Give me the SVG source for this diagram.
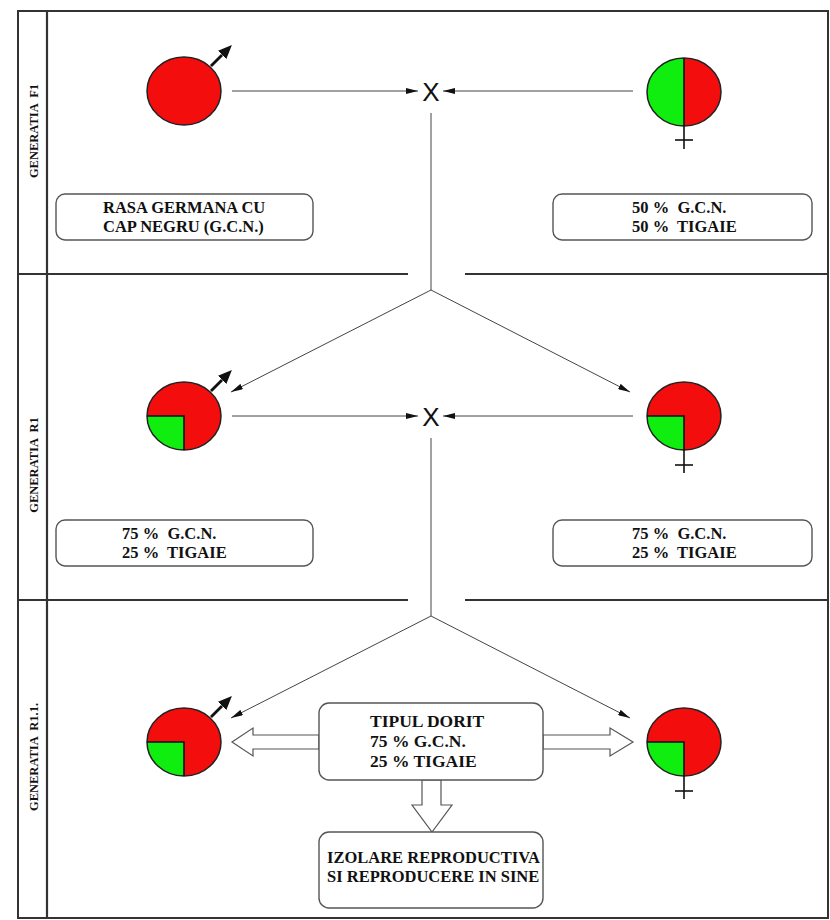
<svg xmlns="http://www.w3.org/2000/svg" width="830" height="920" viewBox="0 0 830 920">
<style>
.frame{fill:none;stroke:#333;stroke-width:2}
.div{stroke:#333;stroke-width:2.2}
.con{stroke:#444;stroke-width:1;fill:none}
.box{fill:#fff;stroke:#555;stroke-width:1.4}
.hollow{fill:#fff;stroke:#555;stroke-width:1.2}
.txt{font-family:"Liberation Serif","Times New Roman",serif;font-weight:bold;font-size:16.5px;fill:#111}
.big{font-size:17.5px}
.lbl{font-family:"Liberation Serif","Times New Roman",serif;font-weight:bold;font-size:12.5px;fill:#111}
.x{font-family:"Liberation Sans",Arial,sans-serif;font-size:26px;fill:#111}
.red{fill:#f30d0d}
.green{fill:#10ee10}
.edge{fill:none;stroke:#222;stroke-width:1.5}
.sym{stroke:#111;stroke-width:1.6;fill:none}
.male{stroke:#111;stroke-width:2.8}
</style>
<defs>
<marker id="ah" viewBox="0 0 12 6" refX="12" refY="3" markerWidth="12" markerHeight="6" markerUnits="userSpaceOnUse" orient="auto"><path d="M0,0 L12,3 L0,6 Z" fill="#111"/></marker>
<marker id="mh" viewBox="0 0 14 12" refX="0" refY="6" markerWidth="14" markerHeight="12" markerUnits="userSpaceOnUse" orient="auto"><path d="M0,0 L14,6 L0,12 Z" fill="#111"/></marker>
</defs>

<g id="frame">
<rect class="frame" x="18" y="11" width="810" height="907"/>
<line class="div" x1="47" y1="11" x2="47" y2="918"/>
<line class="div" x1="18" y1="274" x2="408" y2="274"/>
<line class="div" x1="465" y1="274" x2="828" y2="274"/>
<line class="div" x1="18" y1="600" x2="408" y2="600"/>
<line class="div" x1="465" y1="600" x2="828" y2="600"/>
<text class="lbl" transform="translate(38,131) rotate(-90)" text-anchor="middle" xml:space="preserve">GENERATIA  F1</text>
<text class="lbl" transform="translate(38,465) rotate(-90)" text-anchor="middle" xml:space="preserve">GENERATIA  R1</text>
<text class="lbl" transform="translate(38,757) rotate(-90)" text-anchor="middle" xml:space="preserve">GENERATIA  R1.1.</text>
</g>

<g id="connectors">
<line class="con" x1="232" y1="91" x2="418" y2="91" marker-end="url(#ah)"/>
<line class="con" x1="633" y1="91" x2="443" y2="91" marker-end="url(#ah)"/>
<text class="x" x="431" y="101" text-anchor="middle">X</text>
<line class="con" x1="431" y1="113" x2="431" y2="290"/>
<line class="con" x1="431" y1="290" x2="231" y2="392" marker-end="url(#ah)"/>
<line class="con" x1="431" y1="290" x2="630" y2="392" marker-end="url(#ah)"/>
<line class="con" x1="232" y1="416" x2="418" y2="416" marker-end="url(#ah)"/>
<line class="con" x1="633" y1="416" x2="443" y2="416" marker-end="url(#ah)"/>
<text class="x" x="431" y="426" text-anchor="middle">X</text>
<line class="con" x1="431" y1="438" x2="431" y2="616"/>
<line class="con" x1="431" y1="616" x2="231" y2="718" marker-end="url(#ah)"/>
<line class="con" x1="431" y1="616" x2="630" y2="718" marker-end="url(#ah)"/>
<polygon class="hollow" points="319,735 253,735 253,728 232,742 253,756 253,749 319,749"/>
<polygon class="hollow" points="543,735 610,735 610,728 633,742 610,756 610,749 543,749"/>
<polygon class="hollow" points="422,780 422,805 412,805 432,832 452,805 441,805 441,780"/>
</g>

<g id="f1-male">
<ellipse class="red" cx="184" cy="91" rx="37" ry="34"/>
<ellipse class="edge" cx="184" cy="91" rx="37" ry="34"/>
<line class="male" x1="211" y1="66" x2="222" y2="55" marker-end="url(#mh)"/>
</g>
<g id="f1-female">
<ellipse class="red" cx="684" cy="92" rx="37" ry="34"/>
<path class="green" d="M684,58 A37,34 0 0 0 684,126 Z"/>
<ellipse class="edge" cx="684" cy="92" rx="37" ry="34"/>
<line class="sym" x1="684" y1="58" x2="684" y2="149"/>
<line class="sym" x1="675" y1="140" x2="693" y2="140"/>
</g>
<g id="f1-box-left">
<rect class="box" x="56" y="194" width="257" height="46" rx="9"/>
<text class="txt" x="103" y="213">RASA GERMANA CU</text>
<text class="txt" x="103" y="232">CAP NEGRU (G.C.N.)</text>
</g>
<g id="f1-box-right">
<rect class="box" x="553" y="194" width="259" height="46" rx="9"/>
<text class="txt" x="632" y="213" xml:space="preserve">50 %  G.C.N.</text>
<text class="txt" x="632" y="232" xml:space="preserve">50 %  TIGAIE</text>
</g>

<g id="r1-male">
<ellipse class="red" cx="184" cy="416" rx="37" ry="34"/>
<path class="green" d="M184,416 L147,416 A37,34 0 0 0 184,450 Z"/>
<ellipse class="edge" cx="184" cy="416" rx="37" ry="34"/>
<path class="sym" d="M147,416 L184,416 L184,450"/>
<line class="male" x1="211" y1="391" x2="222" y2="380" marker-end="url(#mh)"/>
</g>
<g id="r1-female">
<ellipse class="red" cx="684" cy="416" rx="37" ry="34"/>
<path class="green" d="M684,416 L647,416 A37,34 0 0 0 684,450 Z"/>
<ellipse class="edge" cx="684" cy="416" rx="37" ry="34"/>
<path class="sym" d="M647,416 L684,416 L684,473"/>
<line class="sym" x1="675" y1="465" x2="693" y2="465"/>
</g>
<g id="r1-box-left">
<rect class="box" x="56" y="520" width="257" height="46" rx="9"/>
<text class="txt" x="122" y="539" xml:space="preserve">75 %  G.C.N.</text>
<text class="txt" x="122" y="558" xml:space="preserve">25 %  TIGAIE</text>
</g>
<g id="r1-box-right">
<rect class="box" x="553" y="520" width="259" height="46" rx="9"/>
<text class="txt" x="632" y="539" xml:space="preserve">75 %  G.C.N.</text>
<text class="txt" x="632" y="558" xml:space="preserve">25 %  TIGAIE</text>
</g>

<g id="r11-male">
<ellipse class="red" cx="184" cy="742" rx="37" ry="34"/>
<path class="green" d="M184,742 L147,742 A37,34 0 0 0 184,776 Z"/>
<ellipse class="edge" cx="184" cy="742" rx="37" ry="34"/>
<path class="sym" d="M147,742 L184,742 L184,776"/>
<line class="male" x1="211" y1="717" x2="222" y2="706" marker-end="url(#mh)"/>
</g>
<g id="r11-female">
<ellipse class="red" cx="684" cy="742" rx="37" ry="34"/>
<path class="green" d="M684,742 L647,742 A37,34 0 0 0 684,776 Z"/>
<ellipse class="edge" cx="684" cy="742" rx="37" ry="34"/>
<path class="sym" d="M647,742 L684,742 L684,799"/>
<line class="sym" x1="675" y1="791" x2="693" y2="791"/>
</g>
<g id="tipul-dorit">
<rect class="box" x="319" y="703" width="224" height="77" rx="10"/>
<text class="txt big" x="370" y="727">TIPUL DORIT</text>
<text class="txt big" x="370" y="747">75 % G.C.N.</text>
<text class="txt big" x="370" y="767">25 % TIGAIE</text>
</g>
<g id="izolare">
<rect class="box" x="319" y="832" width="224" height="76" rx="10"/>
<text class="txt" x="327" y="863">IZOLARE REPRODUCTIVA</text>
<text class="txt" x="327" y="882">SI REPRODUCERE IN SINE</text>
</g>
</svg>
